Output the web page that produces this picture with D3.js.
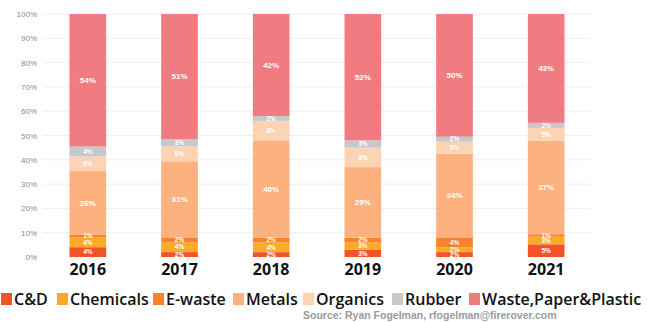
<!DOCTYPE html>
<html><head><meta charset="utf-8">
<script src="https://cdn.jsdelivr.net/npm/d3@7"></script>
<style>
html,body{margin:0;padding:0;background:#fff;}
svg{display:block;}
</style></head>
<body>
<svg id="chart" width="647" height="322"></svg>
<script>
const years = ["2016","2017","2018","2019","2020","2021"];
const seriesNames = ["C&D","Chemicals","E-waste","Metals","Organics","Rubber","Waste,Paper&Plastic"];
const cd        = [4, 2, 2, 3, 2, 5];
const chemicals = [4, 4, 4, 3, 2, 3];
const ewaste    = [1, 2, 2, 2, 4, 1];
const metals    = [26, 31, 40, 29, 34, 37];
const organics  = [6, 6, 8, 8, 5, 5];
const rubber    = [4, 3, 2, 3, 2, 2];
const wastePP   = [54, 51, 42, 52, 50, 43];
const yTicks = [0,0.1,0.2,0.3,0.4,0.5,0.6,0.7,0.8,0.9,1];
const colors = ["#f2532a","#fbab26","#f7842c","#fcb17e","#fdd4b3","#c6c8cc","#f07c82"];
const sourceText = "Source: Ryan Fogelman, rfogelman@firerover.com";

const seriesValues = [cd, chemicals, ewaste, metals, organics, rubber, wastePP];
const rows = years.map((y,i)=>{
  const r = {year:y};
  seriesNames.forEach((s,j)=> r[s] = seriesValues[j][i]);
  return r;
});

const svg = d3.select("#chart");
const x = d3.scaleBand().domain(years).range([42, 592]).paddingInner(0.6).paddingOuter(0.3);
const y = d3.scaleLinear().domain([0,1]).range([257, 14]);

// gridlines
svg.append("g").selectAll("line").data(yTicks.filter(t=>t>0)).join("line")
  .attr("x1", 43).attr("x2", 590)
  .attr("y1", d=>y(d)).attr("y2", d=>y(d))
  .attr("stroke", "#efefef").attr("stroke-width", 1);

// y axis labels
const yAxis = d3.axisLeft(y).tickValues(yTicks).tickFormat(d3.format(".0%")).tickSize(0).tickPadding(0);
const ya = svg.append("g").attr("transform","translate(37,0)").call(yAxis);
ya.select(".domain").remove();
ya.selectAll("text").attr("fill","#8a8a8a").style("font-family","Liberation Sans, Arial, sans-serif").style("font-size","8px");

const stack = d3.stack().keys(seriesNames).offset(d3.stackOffsetExpand);
const stacked = stack(rows);

const g = svg.append("g");
stacked.forEach((layer, li)=>{
  const lg = g.append("g");
  lg.selectAll("rect").data(layer).join("rect")
    .attr("x", d=>x(d.data.year))
    .attr("width", x.bandwidth())
    .attr("y", d=>y(d[1]))
    .attr("height", d=>y(d[0]) - y(d[1]))
    .attr("fill", colors[li]);
});
stacked.forEach((layer, li)=>{
  const big = layer.key === "Metals" || layer.key === "Waste,Paper&Plastic";
  g.append("g").selectAll("text").data(layer).join("text")
    .attr("x", d=>x(d.data.year) + x.bandwidth()/2)
    .attr("y", d=>(y(d[0]) + y(d[1]))/2)
    .attr("dy","0.35em")
    .attr("text-anchor","middle")
    .attr("fill","#fff")
    .style("font-family","Liberation Sans, Arial, sans-serif")
    .style("font-weight","bold")
    .style("font-size", big ? "8px" : "6.5px")
    .text(d=>d.data[layer.key] + "%");
});

// x axis labels
const xAxis = d3.axisBottom(x).tickSize(0).tickPadding(0);
const xa = svg.append("g").attr("transform","translate(0,264)").call(xAxis);
xa.select(".domain").remove();
xa.selectAll("text").attr("fill","#111").attr("dy","0.71em")
  .style("font-family","'Open Sans', sans-serif").style("font-weight","700").style("font-size","16px");

// legend
const legendX = [1, 57, 153, 233, 303, 392, 469];
const lg = svg.append("g");
seriesNames.forEach((s,i)=>{
  const it = lg.append("g").attr("transform",`translate(${legendX[i]},0)`);
  it.append("rect").attr("x",0).attr("y",293).attr("width",11).attr("height",12).attr("fill",colors[i]);
  it.append("text").attr("x",13).attr("y",305)
    .attr("fill","#111")
    .style("font-family","'Open Sans', sans-serif").style("font-weight","600").style("font-size","16px")
    .text(s);
});

svg.append("text").attr("x",303).attr("y",319).attr("fill","#9a9a9a")
  .style("font-family","Liberation Sans, Arial, sans-serif").style("font-weight","bold").style("font-size","10.5px")
  .text(sourceText);
</script>
</body></html>
